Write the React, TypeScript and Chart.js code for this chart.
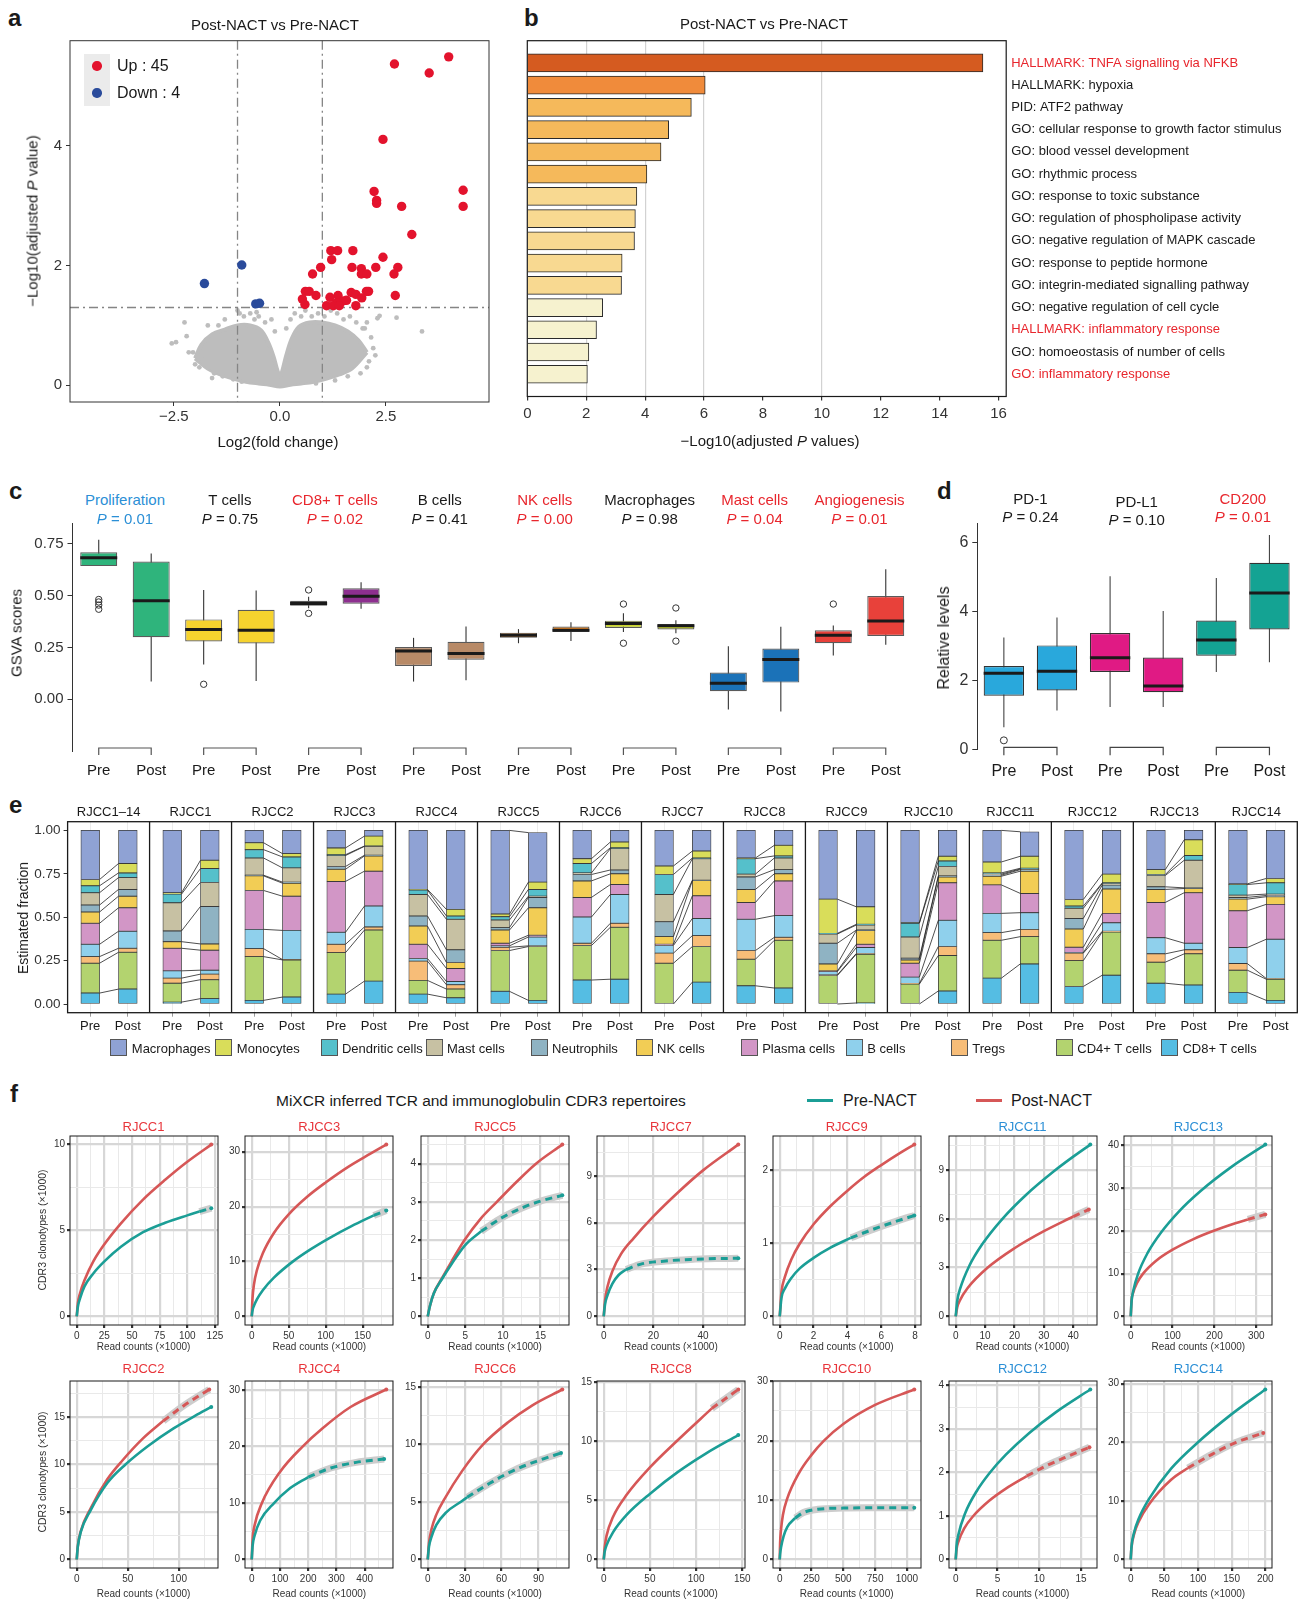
import React, { useEffect, useRef } from "react";
import { Chart, registerables } from "chart.js";

Chart.register(...registerables);

const FONT = '"Liberation Sans", Arial, Helvetica, sans-serif';
Chart.defaults.font.family = FONT;
Chart.defaults.color = "#333";

// ================= Panel a: volcano =================
const upX = [3.98,2.70,3.52,2.43,4.32,4.32,2.22,2.28,2.28,2.87,3.11,1.20,1.36,1.72,1.22,2.43,0.96,1.70,1.92,2.26,2.78,0.77,1.92,2.05,2.69,2.09,2.04,0.60,0.69,0.85,0.53,1.68,1.79,1.37,1.18,2.72,1.93,0.59,1.49,1.34,1.10,1.26,1.79,1.40,1.57];
const upY = [5.49,5.37,5.22,4.11,3.26,2.99,3.24,3.09,3.04,2.99,2.52,2.25,2.25,2.25,2.10,2.14,1.97,1.97,1.95,1.97,1.97,1.86,1.86,1.86,1.86,1.57,1.57,1.57,1.57,1.50,1.44,1.55,1.52,1.50,1.47,1.50,1.46,1.35,1.41,1.38,1.33,1.33,1.33,1.33,1.42];
const downX = [-1.78,-0.90,-0.57,-0.48];
const downY = [1.70,2.01,1.36,1.37];
const cloudTopX = [-2.0,-1.85,-1.6,-1.3,-1.0,-0.7,-0.45,-0.28,-0.15,-0.06,0,0.06,0.15,0.28,0.45,0.7,1.0,1.3,1.6,1.85,2.05];
const cloudTopY = [0.45,0.68,0.85,0.93,1.0,1.0,0.92,0.72,0.48,0.25,0.15,0.25,0.5,0.78,0.98,1.05,1.05,1.0,0.9,0.75,0.55];
const cloudBotX = [-2.0,-1.7,-1.4,-1.1,-0.8,-0.5,-0.25,0,0.25,0.5,0.8,1.1,1.4,1.7,2.05];
const cloudBotY = [0.45,0.28,0.18,0.11,0.06,0.03,0.01,-0.02,0.01,0.03,0.06,0.11,0.18,0.28,0.55];
const nsX = [-2.55,-2.45,-2.2,-2.25,-2.05,-1.85,-2.0,-1.7,-1.45,-1.3,-1.15,-1.0,-0.95,-0.85,-0.7,-0.6,-0.5,-0.55,-0.35,-1.55,-1.9,-2.15,-1.35,-0.2,0.25,0.35,0.5,0.6,0.75,0.9,1.05,1.2,1.35,1.5,1.65,1.8,1.95,2.05,2.15,2.2,2.25,2.05,2.3,2.35,2.75,3.35,2.1,1.9,1.6,1.3,0.85,-0.9,-1.1,-1.6,2.0,0.15,-0.12];
const nsY = [0.7,0.72,0.82,1.05,0.55,0.45,0.35,1.0,1.0,1.1,0.95,1.25,1.2,1.15,1.2,1.1,1.15,1.22,1.05,0.2,0.3,0.55,0.15,1.1,1.1,1.2,1.15,1.25,1.15,1.2,1.15,1.25,1.2,1.1,1.15,1.05,0.95,1.05,0.8,0.62,0.5,0.3,1.12,1.16,1.13,0.9,0.4,0.2,0.15,0.08,0.03,0.06,0.1,0.12,0.95,0.95,0.9];
const fcCut = [-1, 1];
const pCut = 1.3;
const aXTicks = [-2.5, 0, 2.5];
const aYTicks = [0, 2, 4];

// ================= Panel b: enrichment bars =================
const termLabels = [
  "HALLMARK: TNFA signalling via NFKB", "HALLMARK: hypoxia", "PID: ATF2 pathway",
  "GO: cellular response to growth factor stimulus", "GO: blood vessel development",
  "GO: rhythmic process", "GO: response to toxic substance", "GO: regulation of phospholipase activity",
  "GO: negative regulation of MAPK cascade", "GO: response to peptide hormone",
  "GO: integrin-mediated signalling pathway", "GO: negative regulation of cell cycle",
  "HALLMARK: inflammatory response", "GO: homoeostasis of number of cells", "GO: inflammatory response",
];
const termValues = [15.47,6.04,5.57,4.80,4.54,4.06,3.72,3.67,3.64,3.22,3.20,2.56,2.35,2.09,2.04];
const termRed = [true,false,false,false,false,false,false,false,false,false,false,false,true,false,true];
const termTier = [0,1,2,2,2,2,3,3,3,3,3,4,4,4,4];
const tierColors = ["#d55b20","#f08b3b","#f5b95b","#f8d991","#f6f2cf"];
const bXTicks = [0,2,4,6,8,10,12,14,16];
const bGridAt = [2,4,6,10];

// ================= Panel c: GSVA boxes =================
const cGroups = ["Proliferation","T cells","CD8+ T cells","B cells","NK cells","Macrophages","Mast cells","Angiogenesis"];
const cPvals = ["0.01","0.75","0.02","0.41","0.00","0.98","0.04","0.01"];
const cTitleCol = ["#2b8fd6","#1a1a1a","#e8262d","#1a1a1a","#e8262d","#1a1a1a","#e8262d","#e8262d"];
const cFill = ["#2fb47c","#f6d32e","#8d2f8f","#b88a67","#f08a25","#c9d42e","#1b72b8","#e8413a"];
const cMin = [0.642,0.085,0.167,0.088,0.439,0.436,0.085,0.091,0.270,0.281,0.324,0.318,-0.050,-0.060,0.211,0.263];
const cQ1  = [0.642,0.299,0.278,0.269,0.451,0.461,0.160,0.190,0.296,0.324,0.344,0.336,0.038,0.080,0.270,0.305];
const cMed = [0.682,0.475,0.336,0.332,0.462,0.497,0.233,0.220,0.308,0.333,0.365,0.354,0.077,0.192,0.308,0.377];
const cQ3  = [0.709,0.664,0.385,0.431,0.475,0.535,0.252,0.277,0.321,0.351,0.379,0.363,0.129,0.244,0.332,0.498];
const cMax = [0.769,0.703,0.527,0.524,0.494,0.564,0.296,0.351,0.338,0.371,0.415,0.381,0.255,0.349,0.355,0.627];
const cOut = [[0.481,0.469,0.454,0.434],[],[0.072],[],[0.527,0.414],[],[],[],[],[],[0.459,0.270],[0.440,0.280],[],[],[0.459],[]];
const cYTicks = [0, 0.25, 0.5, 0.75];

// ================= Panel d: checkpoint boxes =================
const dGroups = ["PD-1","PD-L1","CD200"];
const dPvals = ["0.24","0.10","0.01"];
const dTitleCol = ["#1a1a1a","#1a1a1a","#e8262d"];
const dFill = ["#29a8dc","#e01a84","#14a393"];
const dMin = [0.64,1.13,1.23,1.23,2.25,2.53];
const dQ1  = [1.56,1.71,2.25,1.66,2.72,3.48];
const dMed = [2.21,2.27,2.66,1.84,3.18,4.54];
const dQ3  = [2.42,3.02,3.38,2.67,3.74,5.42];
const dMax = [3.25,3.83,5.03,4.02,4.98,6.23];
const dOut = [[0.26],[],[],[],[],[]];
const dYTicks = [0,2,4,6];

// ================= Panel e: deconvolution stacks =================
const eFacets = ["RJCC1\u201314","RJCC1","RJCC2","RJCC3","RJCC4","RJCC5","RJCC6","RJCC7","RJCC8","RJCC9","RJCC10","RJCC11","RJCC12","RJCC13","RJCC14"];
const cellTypes = ["CD8+ T cells","CD4+ T cells","Tregs","B cells","Plasma cells","NK cells","Neutrophils","Mast cells","Dendritic cells","Monocytes","Macrophages"];
const eCD8 = [.063,.086,.011,.031,.021,.040,.057,.132,.057,.036,.073,.021,.138,.143,0,.126,.105,.092,0,.006,0,.075,.149,.231,.101,.166,.120,.109,.067,.021];
const eCD4 = [.172,.212,.109,.109,.252,.214,.239,.294,.079,.050,.235,.310,.199,.299,.235,.205,.153,.275,.164,.281,.115,.204,.218,.157,.149,.249,.121,.180,.128,.122];
const eTregs = [.038,.023,.029,.032,.046,.002,.048,.018,.111,.025,.019,.004,.013,.023,.058,.063,.050,.017,.004,.004,.004,.052,.044,.042,.043,.004,.048,.023,.038,.004];
const eB = [.071,.098,.042,.023,.111,.168,.069,.120,.015,.019,.008,.051,.151,.166,.044,.099,.180,.125,.019,.034,.036,.151,.111,.096,.003,.049,.093,.038,.092,.226];
const ePlasma = [.121,.135,.130,.115,.224,.197,.293,.201,.082,.075,.015,.010,.113,.057,.007,.130,.097,.200,.004,.019,.080,.216,.164,.111,.031,.054,.203,.291,.212,.201];
const eNK = [.065,.067,.038,.036,.084,.075,.070,.088,.105,.034,.076,.158,.095,.062,.044,.088,.075,.041,.040,.079,.019,.034,.050,.128,.105,.140,.075,.024,.067,.044];
const eNeutro = [.040,.039,.062,.216,.004,.006,.016,.004,.058,.073,.014,.060,.037,.022,.086,.002,.072,.024,.119,.003,.010,.006,.006,.009,.061,.023,.015,.004,.010,.007];
const eMast = [.071,.068,.162,.138,.099,.082,.063,.051,.124,.176,.044,.007,.009,.123,.157,.124,.016,.067,.053,.029,.122,.054,.006,.004,.058,.009,.065,.159,.013,.008];
const eDC = [.040,.027,.050,.080,.048,.063,.005,.002,.025,.019,.019,.039,.054,.005,.115,.004,.089,.012,.004,.004,.079,.032,.007,.004,.013,.004,.006,.027,.061,.065];
const eMono = [.036,.054,.008,.048,.040,.019,.039,.057,.004,.038,.015,.042,.028,.033,.049,.040,.004,.061,.197,.101,.003,.027,.063,.069,.038,.050,.028,.091,.004,.025];
const eMacro = [.283,.191,.359,.172,.071,.134,.101,.033,.340,.455,.482,.285,.163,.067,.205,.119,.159,.086,.396,.440,.532,.149,.182,.141,.398,.252,.226,.054,.308,.277];
const eStack = [eCD8,eCD4,eTregs,eB,ePlasma,eNK,eNeutro,eMast,eDC,eMono,eMacro];
const cellColors = ["#55bde3","#b3d36f","#f7bd78","#8fd0ec","#d296c6","#f2cd55","#8fb3c3","#c7c1a3","#55c0cb","#d9dd5a","#8fa2d4"];
const eYTicks = [0,0.25,0.5,0.75,1];
const eLegendOrder = [10,9,8,7,6,5,4,3,2,1,0];

// ================= Panel f: rarefaction curves =================
const TEAL = "#1b9e96";
const REDL = "#d65757";
const BAND = "#cdcdcd";
const TRED = "#e8343a";
const TBLUE = "#2b8fd6";
const RJCC1 = { name: "RJCC1", col: TRED, xT: [0,25,50,75,100,125], yT: [0,5,10],
  pre: [[0,0],[1,0.55],[3,1.05],[7,1.75],[15,2.5],[25,3.2],[40,4.05],[60,4.9],[80,5.45],[100,5.88],[111,6.1]], preExt: [[121.7,6.3]],
  post: [[0,0],[1,0.75],[3,1.35],[7,2.1],[15,3.2],[25,4.2],[40,5.42],[60,6.8],[80,7.95],[100,9.0],[121.7,10.0]], postExt: [] };
const RJCC3 = { name: "RJCC3", col: TRED, xT: [0,50,100,150], yT: [0,10,20,30],
  pre: [[0,0],[1,1.05],[3,1.94],[7,3.12],[15,4.78],[30,7.06],[55,9.93],[80,12.25],[105,14.27],[135,16.44],[165,18.4]], preExt: [[182,19.3]],
  post: [[0,0],[1,3.2],[3,5.8],[7,8.4],[15,11.5],[30,15.2],[50,18.6],[75,21.8],[100,24.4],[130,27.2],[160,29.6],[182,31.3]], postExt: [] };
const RJCC5 = { name: "RJCC5", col: TRED, xT: [0,5,10,15], yT: [0,1,2,3,4],
  pre: [[0,0],[0.3,0.28],[0.8,0.6],[1.9,0.98],[3.2,1.38],[4.9,1.85],[7.1,2.23]], preExt: [[10,2.6],[13,2.88],[15,3.02],[17.9,3.17]],
  post: [[0,0],[0.3,0.28],[0.8,0.6],[1.9,1.0],[3.2,1.45],[4.9,2.0],[7,2.55],[9.2,3.0],[11.7,3.5],[14.4,4.0],[17.9,4.5]], postExt: [] };
const RJCC7 = { name: "RJCC7", col: TRED, xT: [0,20,40], yT: [0,3,6,9],
  pre: [[0,0],[0.5,0.75],[1.5,1.35],[3.5,2.1],[6,2.65],[9,3.0]], preExt: [[15,3.35],[25,3.55],[35,3.65],[45,3.7],[54.2,3.72]],
  post: [[0,0],[0.5,1.0],[1.5,1.9],[3.5,2.9],[7,4.0],[12,5.0],[20,6.4],[30,7.95],[40,9.35],[54.2,11.0]], postExt: [] };
const RJCC9 = { name: "RJCC9", col: TRED, xT: [0,2,4,6,8], yT: [0,1,2],
  pre: [[0,0],[0.1,0.25],[0.3,0.38],[0.7,0.53],[1.2,0.66],[2,0.8],[3,0.94],[4.2,1.075]], preExt: [[5.5,1.19],[7,1.31],[7.95,1.38]],
  post: [[0,0],[0.1,0.33],[0.3,0.536],[0.7,0.785],[1.17,0.99],[2,1.26],[3,1.51],[4,1.72],[5,1.91],[6,2.07],[7,2.22],[7.95,2.35]], postExt: [] };
const RJCC11 = { name: "RJCC11", col: TBLUE, xT: [0,10,20,30,40], yT: [0,3,6,9],
  pre: [[0,0],[0.5,0.95],[1.5,1.7],[4.6,3.1],[9,4.43],[15.9,6.0],[24,7.48],[33.4,8.92],[40,9.82],[45.8,10.56]], preExt: [],
  post: [[0,0],[0.5,0.55],[1.5,1.01],[4,1.73],[10.9,3.0],[20,4.19],[30,5.24],[40,6.14]], postExt: [[45.3,6.57]] };
const RJCC13 = { name: "RJCC13", col: TBLUE, xT: [0,100,200,300], yT: [0,10,20,30,40],
  pre: [[0,0],[2,3.51],[6,5.95],[17.7,10.0],[40,14.78],[73.8,19.8],[115,24.54],[167,29.35],[240,34.93],[321.6,40.2]], preExt: [],
  post: [[0,0],[2,3.76],[6,5.6],[15,7.82],[29.5,10.0],[60,12.96],[100,15.6],[150,18.09],[200,20.08],[250,21.78],[280,22.7]], postExt: [[321.6,23.87]] };
const RJCC2 = { name: "RJCC2", col: TRED, xT: [0,50,100], yT: [0,5,10,15],
  pre: [[0,0],[1,1.3],[4,2.9],[13.7,5.2],[30,8.05],[47.8,10.0],[70,11.95],[95,13.8],[116,15.12],[132,16.06]], preExt: [],
  post: [[0,0],[1,1.35],[4,3.0],[13.7,5.4],[30,8.45],[45,10.45],[65,12.75],[85,14.6]], postExt: [[105,16.2],[130,17.9]] };
const RJCC4 = { name: "RJCC4", col: TRED, xT: [0,100,200,300,400], yT: [0,10,20,30],
  pre: [[0,0],[3,2.4],[10,4.2],[30,6.9],[79,10],[130,12.4],[200,14.6]], preExt: [[280,16.2],[370,17.2],[469,17.8]],
  post: [[0,0],[3,3.5],[10,6.0],[36,10],[100,15.5],[180,20],[250,23.2],[350,27],[476.5,30.1]], postExt: [] };
const RJCC6 = { name: "RJCC6", col: TRED, xT: [0,30,60,90], yT: [0,5,10,15],
  pre: [[0,0],[1,1.1],[3,1.95],[7,3.0],[15,4.1],[26.7,5.0],[32,5.4]], preExt: [[50,6.6],[70,7.75],[90,8.6],[108.3,9.25]],
  post: [[0,0],[1,1.4],[3,2.6],[7,3.9],[13.3,5.2],[28,7.7],[45,10],[65,11.9],[85,13.4],[109.3,14.77]], postExt: [] };
const RJCC8 = { name: "RJCC8", col: TRED, xT: [0,50,100,150], yT: [0,5,10,15],
  pre: [[0,0],[1,0.65],[3,1.2],[10,2.3],[25,3.8],[50.5,5.6],[80,7.4],[110,8.95],[145.6,10.54]], preExt: [],
  post: [[0,0],[1,1.0],[3,2.0],[10,3.6],[25,5.5],[50,7.8],[80,10.1],[117,12.8]], postExt: [[145.6,14.4]] };
const RJCC10 = { name: "RJCC10", col: TRED, xT: [0,250,500,750,1000], yT: [0,10,20,30],
  pre: [[0,0],[3,0.9],[10,2.0],[30,3.9],[60,5.5],[122,7.0]], preExt: [[187,7.9],[300,8.45],[500,8.65],[750,8.7],[1058,8.72]],
  post: [[0,0],[3,2.8],[10,5],[25,7.5],[58,10.2],[150,14.5],[250,17.6],[348,20],[500,22.8],[750,26],[1058,28.6]], postExt: [] };
const RJCC12 = { name: "RJCC12", col: TBLUE, xT: [0,5,10,15], yT: [0,1,2,3,4],
  pre: [[0,0],[0.1,0.32],[0.3,0.555],[1.14,1.07],[2.5,1.57],[4.1,2.0],[6,2.41],[8.8,2.91],[12,3.39],[16.1,3.91]], preExt: [],
  post: [[0,0],[0.1,0.24],[0.3,0.4],[1,0.71],[2.1,1.0],[4,1.35],[6,1.63],[8.5,1.92]], postExt: [[11,2.17],[13.5,2.38],[16,2.58]] };
const RJCC14 = { name: "RJCC14", col: TBLUE, xT: [0,50,100,150,200], yT: [0,10,20,30],
  pre: [[0,0],[1,2.0],[5,4.6],[12,7.0],[27,10.3],[60,15.5],[100,20],[150,24.8],[200,29]], preExt: [],
  post: [[0,0],[1,1.9],[5,4.3],[12,6.5],[27,9.4],[60,13.6],[85,15.6]], postExt: [[120,17.9],[155,19.9],[197,21.6]] };
const fRow1 = [RJCC1, RJCC3, RJCC5, RJCC7, RJCC9, RJCC11, RJCC13];
const fRow2 = [RJCC2, RJCC4, RJCC6, RJCC8, RJCC10, RJCC12, RJCC14];

// ================= layout helpers =================
type Rect = { x: number; y: number; w: number; h: number };
type Area = { l: number; t: number; r: number; b: number };

function lay(c: Rect, p: Area, yRight = false) {
  const top = p.t - c.y;
  const xH = c.y + c.h - p.b;
  return yRight
    ? { padding: { left: p.l - c.x, top, right: 0, bottom: 0 }, yW: c.x + c.w - p.r, xH }
    : { padding: { left: 0, top, right: c.x + c.w - p.r, bottom: 0 }, yW: p.l - c.x, xH };
}

function base(L: any) {
  return {
    responsive: false,
    animation: false,
    devicePixelRatio: 1,
    events: [],
    layout: { padding: L.padding, autoPadding: false },
    plugins: { legend: { display: false }, tooltip: { enabled: false }, title: { display: false } },
  };
}

const setTicks = (vals: number[]) => (s: any) => {
  s.ticks = vals.map((v) => ({ value: v }));
};

const framePlugin = {
  id: "frame",
  afterDraw(chart: any, _a: any, o: any) {
    if (!o || !o.color) return;
    const { ctx, chartArea: a } = chart;
    ctx.save();
    ctx.strokeStyle = o.color;
    ctx.lineWidth = o.width || 1;
    ctx.strokeRect(a.left, a.top, a.right - a.left, a.bottom - a.top);
    ctx.restore();
  },
};

function ChartCanvas({ rect, config }: { rect: Rect; config: () => any }) {
  const ref = useRef<HTMLCanvasElement>(null);
  useEffect(() => {
    const ch = new Chart(ref.current as HTMLCanvasElement, config());
    return () => ch.destroy();
  }, []);
  return (
    <canvas
      ref={ref}
      width={rect.w}
      height={rect.h}
      style={{ position: "absolute", left: rect.x, top: rect.y, width: rect.w, height: rect.h }}
    />
  );
}

function T({ x, y, s = 15, a = "l", c = "#1a1a1a", b = false, rot = false, children }: any) {
  const tx = a === "c" ? "-50%" : a === "r" ? "-100%" : "0";
  const transform = rot ? "translate(-50%,-50%) rotate(-90deg)" : `translate(${tx},-50%)`;
  return (
    <div
      style={{
        position: "absolute", left: x, top: y, fontSize: s, lineHeight: `${s}px`, color: c,
        fontWeight: b ? 700 : 400, whiteSpace: "nowrap", transform, fontFamily: FONT,
      }}
    >
      {children}
    </div>
  );
}

// ================= Panel a config =================
const A_RECT = { x: 0, y: 0, w: 500, h: 460 };
const A_AREA = { l: 70, t: 40.7, r: 489, b: 402 };
function cfgA() {
  const L = lay(A_RECT, A_AREA);
  const pts = (xs: number[], ys: number[]) => xs.map((x, i) => ({ x, y: ys[i] }));
  const GREY = "#bdbdbd";
  const thr = {
    id: "thr",
    afterDatasetDraw(chart: any, args: any) {
      if (args.index !== 2) return;
      const { ctx, chartArea: a, scales: { x, y } } = chart;
      ctx.save();
      ctx.strokeStyle = "#858585";
      ctx.lineWidth = 1.3;
      ctx.setLineDash([9, 4, 2, 4]);
      for (const v of fcCut) {
        const px = x.getPixelForValue(v);
        ctx.beginPath(); ctx.moveTo(px, a.top); ctx.lineTo(px, a.bottom); ctx.stroke();
      }
      const py = y.getPixelForValue(pCut);
      ctx.beginPath(); ctx.moveTo(a.left, py); ctx.lineTo(a.right, py); ctx.stroke();
      ctx.restore();
    },
  };
  return {
    type: "scatter",
    data: {
      datasets: [
        { data: pts(cloudTopX, cloudTopY), showLine: true, fill: "+1", backgroundColor: GREY, borderColor: GREY, borderWidth: 4, pointRadius: 0, tension: 0.35, order: 4 },
        { data: pts(cloudBotX, cloudBotY), showLine: true, fill: false, borderColor: GREY, borderWidth: 4, pointRadius: 0, tension: 0.35, order: 4 },
        { data: pts(nsX, nsY), backgroundColor: GREY, borderWidth: 0, pointRadius: 2.4, order: 2 },
        { data: pts(downX, downY), backgroundColor: "#2a4b9b", borderWidth: 0, pointRadius: 4.7, order: 1 },
        { data: pts(upX, upY), backgroundColor: "#e3132d", borderWidth: 0, pointRadius: 4.7, order: 1 },
      ],
    },
    options: {
      ...base(L),
      plugins: { ...base(L).plugins, frame: { color: "#333", width: 1 } },
      scales: {
        x: {
          type: "linear", min: -4.95, max: 4.93,
          afterBuildTicks: setTicks(aXTicks),
          afterFit: (s: any) => { s.height = L.xH; },
          ticks: { font: { size: 15 }, color: "#333", padding: 2, autoSkip: false, maxRotation: 0,
            callback: (v: number) => (v < 0 ? "\u2212" : "") + Math.abs(v).toFixed(1) },
          grid: { drawOnChartArea: false, tickLength: 4, tickColor: "#333" },
          border: { display: false },
        },
        y: {
          type: "linear", min: -0.28, max: 5.76,
          afterBuildTicks: setTicks(aYTicks),
          afterFit: (s: any) => { s.width = L.yW; },
          ticks: { font: { size: 15 }, color: "#333", padding: 4, callback: (v: number) => String(v) },
          grid: { drawOnChartArea: false, tickLength: 4, tickColor: "#333" },
          border: { display: false },
        },
      },
    },
    plugins: [thr, framePlugin],
  };
}

// ================= Panel b config =================
const B_RECT = { x: 505, y: 0, w: 796, h: 460 };
const B_AREA = { l: 527.3, t: 40.7, r: 1006.2, b: 396.5 };
function cfgB() {
  const L = lay(B_RECT, B_AREA, true);
  return {
    type: "bar",
    data: {
      datasets: [
        {
          data: termValues.map((v, i) => ({ x: v, y: i })),
          backgroundColor: termTier.map((t) => tierColors[t]),
          borderColor: "#2a2a2a",
          borderWidth: 1,
          barThickness: 18,
        },
      ],
    },
    options: {
      ...base(L),
      indexAxis: "y",
      plugins: { ...base(L).plugins, frame: { color: "#1a1a1a", width: 1.2 } },
      scales: {
        x: {
          type: "linear", min: 0, max: 16.26, offset: false,
          afterBuildTicks: setTicks(bXTicks),
          afterFit: (s: any) => { s.height = L.xH; },
          ticks: { font: { size: 15 }, color: "#333", padding: 4, autoSkip: false, maxRotation: 0 },
          grid: {
            color: (c: any) => (c.tick && bGridAt.includes(c.tick.value) ? "#d2d2d2" : "rgba(0,0,0,0)"),
            lineWidth: 1.2, tickLength: 4, tickColor: "#333", offset: false,
          },
          border: { display: false },
        },
        y: {
          type: "linear", position: "right", min: -1, max: 15, reverse: true, offset: false,
          afterBuildTicks: setTicks(termLabels.map((_, i) => i)),
          afterFit: (s: any) => { s.width = L.yW; },
          ticks: {
            font: { size: 13 }, padding: 5, autoSkip: false,
            color: (c: any) => (termRed[c.index] ? "#e8262d" : "#1a1a1a"),
            callback: (v: number) => termLabels[v],
          },
          grid: { display: false, drawTicks: false, offset: false },
          border: { display: false },
        },
      },
    },
    plugins: [framePlugin],
  };
}

// ================= Box plot helper (c, d) =================
function boxPlugin(id: string, mins: number[], meds: number[], maxs: number[], outs: number[][], o: any) {
  return {
    id,
    beforeDatasetsDraw(chart: any) {
      const { ctx, scales: { x, y } } = chart;
      ctx.save();
      ctx.strokeStyle = o.whisker;
      ctx.lineWidth = 1.1;
      for (let i = 0; i < mins.length; i++) {
        const px = x.getPixelForValue(i);
        ctx.beginPath(); ctx.moveTo(px, y.getPixelForValue(maxs[i])); ctx.lineTo(px, y.getPixelForValue(mins[i])); ctx.stroke();
      }
      ctx.restore();
    },
    afterDatasetsDraw(chart: any) {
      const { ctx, chartArea: a, scales: { x, y } } = chart;
      const meta = chart.getDatasetMeta(0);
      ctx.save();
      for (let i = 0; i < mins.length; i++) {
        const el: any = meta.data[i];
        const hw = el.width / 2;
        const px = x.getPixelForValue(i);
        ctx.strokeStyle = "#1a1a1a";
        ctx.lineWidth = o.medW;
        const my = y.getPixelForValue(meds[i]);
        ctx.beginPath(); ctx.moveTo(px - hw, my); ctx.lineTo(px + hw, my); ctx.stroke();
        ctx.lineWidth = 1;
        ctx.strokeStyle = "#333";
        for (const ov of outs[i]) {
          ctx.beginPath(); ctx.arc(px, y.getPixelForValue(ov), o.r, 0, Math.PI * 2); ctx.stroke();
        }
      }
      ctx.strokeStyle = o.bracket;
      ctx.lineWidth = 1.2;
      for (let k = 0; k < mins.length / 2; k++) {
        const x1 = x.getPixelForValue(2 * k), x2 = x.getPixelForValue(2 * k + 1);
        const yt = a.bottom + o.bt, yb = a.bottom + o.bb;
        ctx.beginPath(); ctx.moveTo(x1, yb); ctx.lineTo(x1, yt); ctx.lineTo(x2, yt); ctx.lineTo(x2, yb); ctx.stroke();
      }
      ctx.restore();
    },
  };
}

function boxConfig(R: Rect, A: Area, groups: string[], fills: string[], q1: number[], q3: number[], ymin: number, ymax: number,
  yTicks: number[], fmt: (v: number) => string, fs: number, bp: number, border: string, plug: any, xPad: number) {
  const L = lay(R, A);
  const labels = groups.flatMap(() => ["Pre", "Post"]);
  return {
    type: "bar",
    data: {
      labels,
      datasets: [
        {
          data: q1.map((v, i) => [v, q3[i]]),
          backgroundColor: groups.flatMap((_, k) => [fills[k], fills[k]]),
          borderColor: border,
          borderWidth: 1.2,
          borderSkipped: false,
          barPercentage: bp,
          categoryPercentage: 1,
        },
      ],
    },
    options: {
      ...base(L),
      scales: {
        x: {
          type: "category", offset: true,
          afterFit: (s: any) => { s.height = L.xH; },
          ticks: { font: { size: fs }, color: "#1a1a1a", padding: xPad, autoSkip: false, maxRotation: 0 },
          grid: { display: false, drawTicks: false },
          border: { display: false },
        },
        y: {
          type: "linear", min: ymin, max: ymax,
          afterBuildTicks: setTicks(yTicks),
          afterFit: (s: any) => { s.width = L.yW; },
          ticks: { font: { size: fs }, color: "#333", padding: 4, callback: fmt },
          grid: { drawOnChartArea: false, tickLength: 5, tickColor: "#333" },
          border: { display: true, color: "#333", width: 1 },
        },
      },
    },
    plugins: [plug],
  };
}

const C_RECT = { x: 0, y: 510, w: 920, h: 275 };
const C_AREA = { l: 72.5, t: 518, r: 912, b: 751 };
const D_RECT = { x: 925, y: 510, w: 376, h: 275 };
const D_AREA = { l: 977.3, t: 518, r: 1296, b: 749.3 };

function cfgC() {
  return boxConfig(C_RECT, C_AREA, cGroups, cFill, cQ1, cQ3, -0.25, 0.85, cYTicks, (v) => v.toFixed(2), 15, 0.705, "#5a5a5a",
    boxPlugin("boxc", cMin, cMed, cMax, cOut, { whisker: "#333", medW: 3, r: 3.2, bracket: "#555", bt: -3, bb: 4 }), 11);
}
function cfgD() {
  return boxConfig(D_RECT, D_AREA, dGroups, dFill, dQ1, dQ3, 0, 6.56, dYTicks, (v) => String(v), 16, 0.76, "#333",
    boxPlugin("boxd", dMin, dMed, dMax, dOut, { whisker: "#444", medW: 3, r: 3.5, bracket: "#444", bt: -2, bb: 6 }), 13);
}

// ================= Panel e config =================
const E_RECT = { x: 0, y: 795, w: 1301, h: 245 };
const E_AREA = { l: 67.6, t: 821.7, r: 1297.3, b: 1012.7 };
const PRE_OFF = 0.276;
const POST_OFF = 0.735;
const E_BAR = 18.7;
function cfgE() {
  const L = lay(E_RECT, E_AREA);
  const xs = eFacets.flatMap((_, f) => [f + PRE_OFF, f + POST_OFF]);
  const plug = {
    id: "eDeco",
    afterDatasetsDraw(chart: any) {
      const { ctx, chartArea: a, scales: { x, y } } = chart;
      const half = E_BAR / 2;
      ctx.save();
      ctx.strokeStyle = "#222";
      ctx.lineWidth = 0.8;
      for (let f = 0; f < eFacets.length; f++) {
        let cp = 0, cq = 0;
        const x1 = x.getPixelForValue(f + PRE_OFF) + half;
        const x2 = x.getPixelForValue(f + POST_OFF) - half;
        for (let k = 0; k < eStack.length; k++) {
          cp += eStack[k][2 * f];
          cq += eStack[k][2 * f + 1];
          if (cp > 0.998 && cq > 0.998) continue;
          ctx.beginPath(); ctx.moveTo(x1, y.getPixelForValue(cp)); ctx.lineTo(x2, y.getPixelForValue(cq)); ctx.stroke();
        }
      }
      ctx.strokeStyle = "#1a1a1a";
      ctx.lineWidth = 1.3;
      ctx.strokeRect(a.left, a.top, a.right - a.left, a.bottom - a.top);
      for (let f = 1; f < eFacets.length; f++) {
        const px = x.getPixelForValue(f);
        ctx.beginPath(); ctx.moveTo(px, a.top); ctx.lineTo(px, a.bottom); ctx.stroke();
      }
      ctx.fillStyle = "#1a1a1a";
      ctx.font = `13px ${FONT}`;
      ctx.textAlign = "center";
      ctx.textBaseline = "middle";
      for (let f = 0; f < eFacets.length; f++) {
        ctx.fillText(eFacets[f], x.getPixelForValue(f + 0.5), a.top - 9);
      }
      ctx.restore();
    },
  };
  return {
    type: "bar",
    data: {
      datasets: eStack.map((vals, k) => ({
        label: cellTypes[k],
        data: xs.map((x, j) => ({ x, y: vals[j] })),
        backgroundColor: cellColors[k],
        borderColor: "#3a3a3a",
        borderWidth: 0.8,
        borderSkipped: false,
        barThickness: E_BAR,
      })),
    },
    options: {
      ...base(L),
      scales: {
        x: {
          type: "linear", min: 0, max: eFacets.length, stacked: true, offset: false,
          afterBuildTicks: setTicks(xs),
          afterFit: (s: any) => { s.height = L.xH; },
          ticks: { font: { size: 13 }, color: "#1a1a1a", padding: 2, autoSkip: false, maxRotation: 0,
            callback: (_v: number, i: number) => (i % 2 === 0 ? "Pre" : "Post") },
          grid: { color: "#ececec", lineWidth: 1, tickLength: 4, tickColor: "#999", offset: false },
          border: { display: false },
        },
        y: {
          type: "linear", min: -0.05, max: 1.05, stacked: true,
          afterBuildTicks: setTicks(eYTicks),
          afterFit: (s: any) => { s.width = L.yW; },
          ticks: { font: { size: 13.5 }, color: "#333", padding: 3, callback: (v: number) => v.toFixed(2) },
          grid: { drawOnChartArea: false, tickLength: 4, tickColor: "#333" },
          border: { display: false },
        },
      },
    },
    plugins: [plug],
  };
}

// ================= Panel f config =================
const F_COL_L = [69.5, 245.3, 421.1, 596.9, 772.7, 948.5, 1124.3];
const F_W = 148;
const F_ROWS = [{ t: 1135.5, b: 1324.6 }, { t: 1380.7, b: 1568.3 }];

function gridTicks(major: number[], min: number, max: number) {
  const step = major[1] - major[0];
  const out: any[] = major.map((v) => ({ value: v, mj: true }));
  for (let i = 0; i < major.length - 1; i++) out.push({ value: (major[i] + major[i + 1]) / 2, mj: false });
  const hi = major[major.length - 1] + step / 2;
  if (hi <= max) out.push({ value: hi, mj: false });
  const hi2 = major[major.length - 1] + step;
  if (hi2 <= max) out.push({ value: hi2, mj: false });
  return out.sort((a, b) => a.value - b.value);
}

function fRect(row: number, col: number): Rect {
  const L = F_COL_L[col], R = F_ROWS[row];
  return { x: L - 30, y: R.t - 22, w: F_W + 30 + 14, h: R.b - R.t + 44 };
}
function fArea(row: number, col: number): Area {
  const L = F_COL_L[col], R = F_ROWS[row];
  return { l: L, t: R.t, r: L + F_W, b: R.b };
}

function cfgF(sp: any, row: number, col: number) {
  const L = lay(fRect(row, col), fArea(row, col));
  const all = [...sp.pre, ...sp.preExt, ...sp.post, ...sp.postExt];
  const xM = Math.max(...all.map((p: number[]) => p[0]));
  const yM = Math.max(...all.map((p: number[]) => p[1]));
  const xmin = -0.05 * xM, xmax = 1.05 * xM, ymin = -0.05 * yM, ymax = 1.05 * yM;
  const mk = (arr: number[][]) => arr.map(([x, y]) => ({ x, y }));
  const ext = (obs: number[][], e: number[][]) => (e.length ? [obs[obs.length - 1], ...e] : []);
  const datasets: any[] = [];
  const add = (pts: number[][], color: string, width: number, dash: number[], order: number, endDot: boolean) => {
    if (!pts.length) return;
    const n = pts.length;
    datasets.push({
      data: mk(pts), borderColor: color, backgroundColor: color, borderWidth: width, borderDash: dash,
      pointRadius: (c: any) => (endDot && c.dataIndex === n - 1 ? 2 : 0), pointBorderWidth: 0,
      showLine: true, fill: false, cubicInterpolationMode: "monotone", order, borderCapStyle: "butt",
    });
  };
  const preE = ext(sp.pre, sp.preExt), postE = ext(sp.post, sp.postExt);
  add(preE, BAND, 7, [], 6, false);
  add(postE, BAND, 7, [], 6, false);
  add(preE, TEAL, 3, [7, 5], 3, true);
  add(postE, REDL, 3, [7, 5], 4, true);
  add(sp.pre, TEAL, 2.6, [], 1, !preE.length);
  add(sp.post, REDL, 2.6, [], 2, !postE.length);
  const axis = (major: number[], min: number, max: number, fit: any) => ({
    type: "linear", min, max,
    afterBuildTicks: (s: any) => { s.ticks = gridTicks(major, min, max); },
    ticks: {
      callback: (v: number, i: number, t: any[]) => (t[i] && t[i].mj ? String(v) : ""),
      font: { size: 10 }, color: "#333", padding: 2, autoSkip: false, maxRotation: 0,
    },
    grid: {
      color: (c: any) => (c.tick && c.tick.mj ? "#d7d7d7" : "#e9e9e9"),
      lineWidth: (c: any) => (c.tick && c.tick.mj ? 2.2 : 1),
      tickColor: (c: any) => (c.tick && c.tick.mj ? "#333" : "rgba(0,0,0,0)"),
      tickLength: 3,
    },
    border: { display: false },
    ...fit,
  });
  return {
    type: "scatter",
    data: { datasets },
    options: {
      ...base(L),
      plugins: { ...base(L).plugins, frame: { color: "#1a1a1a", width: 1 } },
      scales: {
        x: axis(sp.xT, xmin, xmax, { afterFit: (s: any) => { s.height = L.xH; } }),
        y: axis(sp.yT, ymin, ymax, { afterFit: (s: any) => { s.width = L.yW; } }),
      },
    },
    plugins: [framePlugin],
  };
}

// ================= App =================
export default function App() {
  const cCat = (C_AREA.r - C_AREA.l) / (cGroups.length * 2);
  const dCat = (D_AREA.r - D_AREA.l) / (dGroups.length * 2);
  const legX = (i: number) => 110.4 + 105.06 * i;
  return (
    <div style={{ position: "absolute", left: 0, top: 0, width: 1301, height: 1602, background: "#fff", overflow: "hidden", fontFamily: FONT, color: "#1a1a1a" }}>
      {/* panel letters */}
      <T x={8} y={17.7} s={24} b>a</T>
      <T x={524} y={17.7} s={24} b>b</T>
      <T x={9} y={490.7} s={24} b>c</T>
      <T x={937} y={490.7} s={24} b>d</T>
      <T x={9} y={804.7} s={24} b>e</T>
      <T x={10} y={1093.7} s={24} b>f</T>

      {/* ---- a ---- */}
      <ChartCanvas rect={A_RECT} config={cfgA} />
      <T x={275} y={24} a="c">Post-NACT vs Pre-NACT</T>
      <T x={278} y={441} a="c">Log2(fold change)</T>
      <T x={32} y={221} rot>{"\u2212"}Log10(adjusted <i>P</i> value)</T>
      <div style={{ position: "absolute", left: 84, top: 54, width: 26, height: 52, background: "#ebebeb" }} />
      <div style={{ position: "absolute", left: 92.4, top: 61.4, width: 9.4, height: 9.4, borderRadius: "50%", background: "#e3132d" }} />
      <div style={{ position: "absolute", left: 92.4, top: 88.4, width: 9.4, height: 9.4, borderRadius: "50%", background: "#2a4b9b" }} />
      <T x={117} y={66} s={16}>Up : 45</T>
      <T x={117} y={93} s={16}>Down : 4</T>

      {/* ---- b ---- */}
      <ChartCanvas rect={B_RECT} config={cfgB} />
      <T x={764} y={23.3} a="c">Post-NACT vs Pre-NACT</T>
      <T x={770} y={440} a="c">{"\u2212"}Log10(adjusted <i>P</i> values)</T>

      {/* ---- c ---- */}
      <ChartCanvas rect={C_RECT} config={cfgC} />
      {cGroups.map((g, k) => (
        <React.Fragment key={g}>
          <T x={C_AREA.l + cCat * (2 * k + 1)} y={499} a="c" c={cTitleCol[k]}>{g}</T>
          <T x={C_AREA.l + cCat * (2 * k + 1)} y={517.7} a="c" c={cTitleCol[k]}><i>P</i> = {cPvals[k]}</T>
        </React.Fragment>
      ))}
      <T x={16} y={633} rot>GSVA scores</T>

      {/* ---- d ---- */}
      <ChartCanvas rect={D_RECT} config={cfgD} />
      {dGroups.map((g, k) => (
        <React.Fragment key={g}>
          <T x={D_AREA.l + dCat * (2 * k + 1)} y={k === 1 ? 500.7 : 498} a="c" c={dTitleCol[k]}>{g}</T>
          <T x={D_AREA.l + dCat * (2 * k + 1)} y={k === 1 ? 519 : 516} a="c" c={dTitleCol[k]}><i>P</i> = {dPvals[k]}</T>
        </React.Fragment>
      ))}
      <T x={944} y={638} s={16} rot>Relative levels</T>

      {/* ---- e ---- */}
      <ChartCanvas rect={E_RECT} config={cfgE} />
      <T x={22.8} y={918} s={14} rot>Estimated fraction</T>
      {eLegendOrder.map((k, i) => (
        <React.Fragment key={cellTypes[k]}>
          <div style={{ position: "absolute", left: legX(i), top: 1039, width: 17, height: 17, background: cellColors[k], border: "1px solid #555", boxSizing: "border-box" }} />
          <T x={legX(i) + 21.4} y={1047.5} s={13}>{cellTypes[k]}</T>
        </React.Fragment>
      ))}

      {/* ---- f ---- */}
      <T x={276} y={1100.7} s={15.5}>MiXCR inferred TCR and immunoglobulin CDR3 repertoires</T>
      <div style={{ position: "absolute", left: 807, top: 1099.2, width: 26, height: 3, background: TEAL }} />
      <T x={843} y={1100.7} s={16}>Pre-NACT</T>
      <div style={{ position: "absolute", left: 976, top: 1099.2, width: 26, height: 3, background: REDL }} />
      <T x={1011} y={1100.7} s={16}>Post-NACT</T>
      {[fRow1, fRow2].map((row, r) =>
        row.map((sp, j) => (
          <React.Fragment key={sp.name}>
            <ChartCanvas rect={fRect(r, j)} config={() => cfgF(sp, r, j)} />
            <T x={F_COL_L[j] + F_W / 2} y={r === 0 ? 1125.7 : 1368.3} s={13} a="c" c={sp.col}>{sp.name}</T>
            <T x={F_COL_L[j] + F_W / 2} y={r === 0 ? 1347 : 1594} s={10} a="c" c="#333">Read counts ({"\u00d7"}1000)</T>
          </React.Fragment>
        ))
      )}
      <T x={42} y={1230} s={10.5} c="#333" rot>CDR3 clonotypes ({"\u00d7"}1000)</T>
      <T x={42} y={1472} s={10.5} c="#333" rot>CDR3 clonotypes ({"\u00d7"}1000)</T>
    </div>
  );
}
